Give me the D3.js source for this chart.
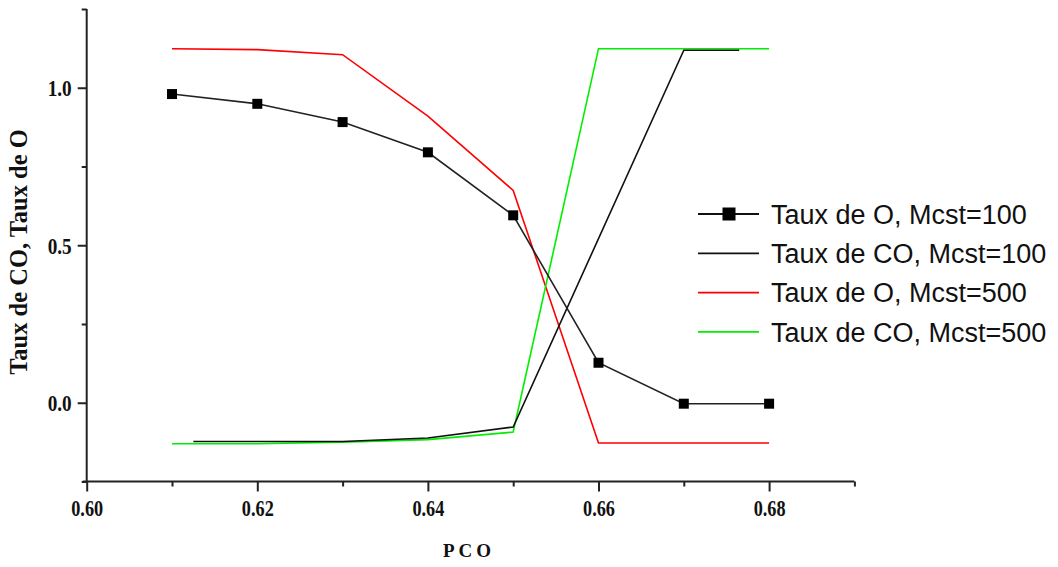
<!DOCTYPE html>
<html>
<head>
<meta charset="utf-8">
<script src="https://cdn.jsdelivr.net/npm/d3@7"></script>
<style>
  html, body { margin: 0; padding: 0; background: #fff; }
  svg { display: block; }
</style>
</head>
<body>
<svg id="chart" width="1058" height="567"></svg>
<script>
// PCO values shared by three of the series
const pco = [0.61, 0.62, 0.63, 0.64, 0.65, 0.66, 0.67, 0.68];
const tauxO100 = [0.980, 0.949, 0.891, 0.795, 0.595, 0.127, -0.003, -0.003];
const tauxO500 = [1.124, 1.121, 1.105, 0.910, 0.674, -0.128, -0.128, -0.128];
const tauxCO500 = [-0.130, -0.130, -0.125, -0.117, -0.093, 1.124, 1.124, 1.124];
// CO rate for Mcst=100 is sampled on its own PCO grid
const pcoCO100 = [0.6125, 0.63, 0.64, 0.65, 0.67, 0.6765];
const tauxCO100 = [-0.123, -0.123, -0.112, -0.077, 1.119, 1.119];

const xMajor = [0.60, 0.62, 0.64, 0.66, 0.68];
const xMinor = [0.61, 0.63, 0.65, 0.67, 0.69];
const yMajor = [0.0, 0.5, 1.0];
const yMinor = [-0.25, 0.25, 0.75, 1.25];

const legendLabels = [
  "Taux de O, Mcst=100",
  "Taux de CO, Mcst=100",
  "Taux de O, Mcst=500",
  "Taux de CO, Mcst=500"
];

const svg = d3.select("#chart");
const x = d3.scaleLinear().domain([0.60, 0.69]).range([86.7, 854.4]);
const y = d3.scaleLinear().domain([-0.25, 1.25]).range([481.5, 9]);

const axisColor = "#222";
const tickFont = "'Liberation Serif', 'Times New Roman', serif";

// X axis
const gx = svg.append("g").attr("transform", `translate(0,${y(-0.25)})`);
gx.call(d3.axisBottom(x).tickValues(xMajor).tickSize(10).tickFormat(d3.format(".2f")));
const gxm = svg.append("g").attr("transform", `translate(0,${y(-0.25)})`);
gxm.call(d3.axisBottom(x).tickValues(xMinor).tickSize(5).tickFormat(""));
gxm.select(".domain").remove();

// Y axis
const gy = svg.append("g").attr("transform", `translate(${x(0.60)},0)`);
gy.call(d3.axisLeft(y).tickValues(yMajor).tickSize(9).tickFormat(d3.format(".1f")));
const gym = svg.append("g").attr("transform", `translate(${x(0.60)},0)`);
gym.call(d3.axisLeft(y).tickValues(yMinor).tickSize(5).tickFormat(""));
gym.select(".domain").remove();

[gx, gxm, gy, gym].forEach(g => {
  g.selectAll(".domain").attr("stroke", axisColor).attr("stroke-width", 2);
  g.selectAll(".tick line").attr("stroke", axisColor).attr("stroke-width", 2);
});
gx.select(".domain").attr("d", `M${x(0.60) - 4},0H${x(0.69)}`);
gy.select(".domain").attr("d", `M0,${y(1.25)}V${y(-0.25)}`);

gx.selectAll(".tick text")
  .attr("font-family", tickFont).attr("font-weight", "bold").attr("font-size", 24)
  .attr("fill", "#111").attr("x", 0).attr("y", 0).attr("dy", 0)
  .attr("transform", "translate(0,34) scale(0.76,1)");
gy.selectAll(".tick text")
  .attr("font-family", tickFont).attr("font-weight", "bold").attr("font-size", 24)
  .attr("fill", "#111").attr("x", 0).attr("dy", 0)
  .attr("text-anchor", "end")
  .attr("transform", "translate(-15,8) scale(0.8,1)");

// Axis titles
svg.append("text")
  .attr("transform", `translate(27,252) rotate(-90)`)
  .attr("text-anchor", "middle")
  .attr("font-family", tickFont).attr("font-weight", "bold").attr("font-size", 24.5)
  .attr("fill", "#111")
  .text("Taux de CO, Taux de O");
svg.append("text")
  .attr("x", 469).attr("y", 557)
  .attr("text-anchor", "middle")
  .attr("font-family", tickFont).attr("font-weight", "bold").attr("font-size", 19)
  .attr("letter-spacing", 4)
  .attr("fill", "#111")
  .text("PCO");

// Series lines
const line = d3.line().x(d => x(d[0])).y(d => y(d[1]));
const series = [
  { xs: pco, ys: tauxO500, color: "#ff0000" },
  { xs: pco, ys: tauxCO500, color: "#00ee00" },
  { xs: pcoCO100, ys: tauxCO100, color: "#111" },
  { xs: pco, ys: tauxO100, color: "#222" }
];
series.forEach(s => {
  svg.append("path")
    .datum(d3.zip(s.xs, s.ys))
    .attr("fill", "none")
    .attr("stroke", s.color)
    .attr("stroke-width", 1.6)
    .attr("d", line);
});

// Square markers for Taux de O, Mcst=100
svg.append("g").selectAll("rect")
  .data(d3.zip(pco, tauxO100))
  .join("rect")
  .attr("x", d => x(d[0]) - 5)
  .attr("y", d => y(d[1]) - 5)
  .attr("width", 10).attr("height", 10)
  .attr("fill", "#000");

// Legend
const legendColors = ["#111", "#111", "#ff0000", "#00ee00"];
const lg = svg.append("g");
legendLabels.forEach((label, i) => {
  const cy = 214 + i * 39.3;
  lg.append("line")
    .attr("x1", 698).attr("x2", 759).attr("y1", cy).attr("y2", cy)
    .attr("stroke", legendColors[i]).attr("stroke-width", 1.8);
  if (i === 0) {
    lg.append("rect")
      .attr("x", 722.5).attr("y", cy - 6.5).attr("width", 13).attr("height", 13)
      .attr("fill", "#000");
  }
  lg.append("text")
    .attr("x", 771).attr("y", cy).attr("dy", "0.36em")
    .attr("font-family", "'Liberation Sans', Arial, sans-serif")
    .attr("font-size", 27)
    .attr("fill", "#111")
    .text(label);
});
</script>
</body>
</html>
